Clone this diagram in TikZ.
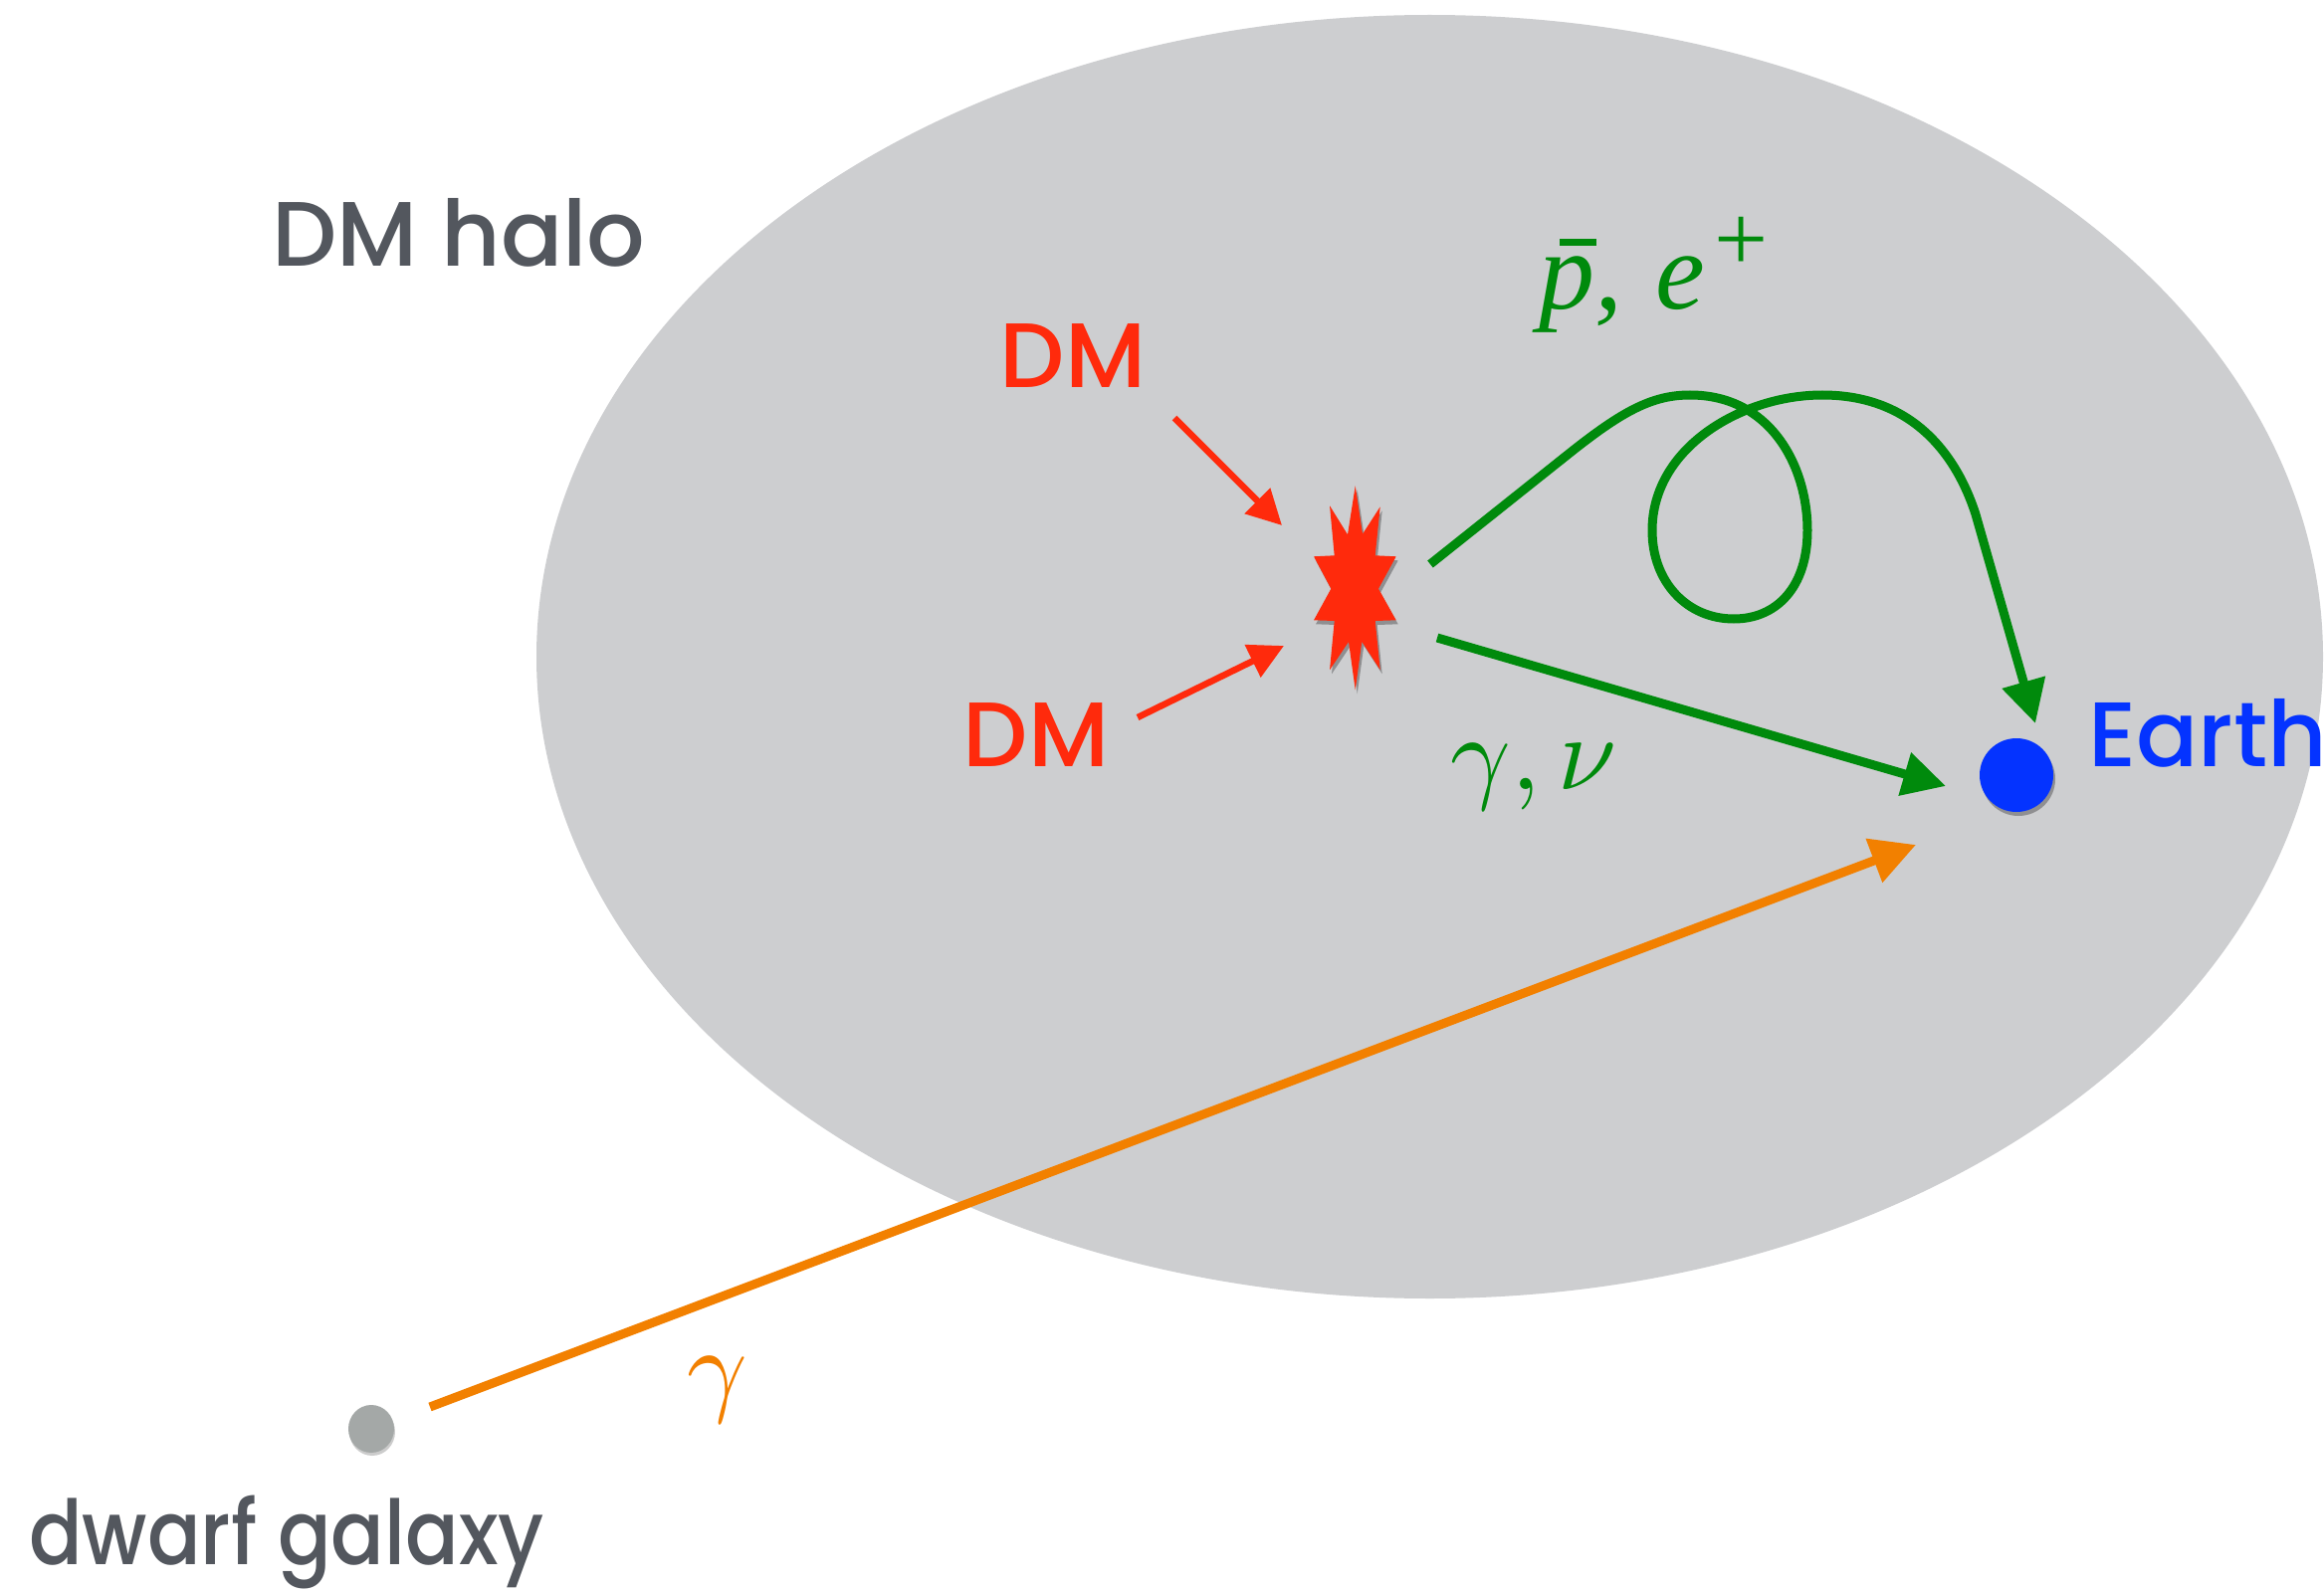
\documentclass[tikz,border=0pt]{standalone}
\usepackage{fontspec}
\setmainfont{Poppins}[UprightFont={* Medium}]
\newfontfamily\serfont{Liberation Serif}
\usetikzlibrary{arrows.meta,shadows,shapes.geometric}
\definecolor{halo}{HTML}{CDCED0}
\definecolor{txtgray}{HTML}{53575E}
\definecolor{dmred}{HTML}{FF2A0C}
\definecolor{grn}{HTML}{008A0C}
\definecolor{earthblue}{HTML}{0433FF}
\definecolor{orng}{HTML}{F28000}
\definecolor{dwarfgray}{HTML}{A4A8A7}
\begin{document}
\begin{tikzpicture}[x=1pt,y=-1pt,
  lbl/.style={anchor=base, inner sep=0pt, font=\fontsize{92}{92}\selectfont},
  mlbl/.style={anchor=base, inner sep=0pt},
  redarr/.style={draw=dmred, line width=6.5pt, -{Triangle[length=35pt,width=35pt]}},
  grnarr/.style={draw=grn, line width=9pt, -{Triangle[length=43pt,width=43pt]}},
  orarr/.style={draw=orng, line width=9pt, -{Triangle[length=45pt,width=45pt]}},
  softshadow/.style={drop shadow={shadow xshift=2pt, shadow yshift=-4pt, opacity=0.3, fill=black}}
]
\useasboundingbox (0,0) rectangle (2335,1602);
\fill[white] (0,0) rectangle (2335,1602);
% halo
\fill[halo] (1436.5,660) ellipse [x radius=897.5, y radius=645];

% labels
\node[lbl, text=txtgray] (halolbl) at (461,268) {DM halo};
\node[lbl, text=dmred] (dm1) at (1078,390) {DM};
\node[lbl, text=dmred] (dm2) at (1041,770) {DM};
\node[lbl, text=earthblue] (earthlbl) at (2218,770) {Earth};
\node[lbl, text=txtgray, font=\fontsize{90}{90}\selectfont] (dwarflbl) at (288,1572) {\scalebox{0.88}[1]{dwarf galaxy}};

% star (annihilation)
\fill[dmred, softshadow]
  (1361.7,488.3) -- (1369,536.7) -- (1386.7,509.3) -- (1381.7,558.3) -- (1402.7,559.3)
  -- (1385,591.7) -- (1402.7,623.3) -- (1381.7,624) -- (1386.7,673.3) -- (1368.3,645)
  -- (1361.7,693.3) -- (1355,645) -- (1336,673.3) -- (1340.7,624) -- (1320,623.3)
  -- (1337.3,591.7) -- (1320,559.3) -- (1340.7,558.3) -- (1336,508.3) -- (1354,537.3) -- cycle;
\coordinate (star) at (1362,592);

% earth and dwarf
\node[circle, fill=earthblue, minimum size=74pt, inner sep=0pt, softshadow] (earth) at (2026,779) {};
\node[ellipse, fill=dwarfgray, minimum width=46pt, minimum height=48pt, inner sep=0pt,
  drop shadow={shadow xshift=1pt, shadow yshift=-3pt, opacity=0.2, fill=black}] (dwarf) at (373,1436) {};

% coordinates for connector ends
\coordinate (r1s) at (1180,420);
\coordinate (r1e) at (1288,528);
\coordinate (r2s) at (1143,721);
\coordinate (r2e) at (1290,649);
\coordinate (gs) at (1444,641);
\coordinate (ge) at (1955,790);
\coordinate (cs) at (1437,567);
\coordinate (ce) at (2045,727);
\coordinate (os) at (432,1414);
\coordinate (oe) at (1925,849);

% red arrows
\draw[redarr] (r1s) -- (r1e);
\draw[redarr] (r2s) -- (r2e);

% green arrows
\draw[grnarr] (gs) -- (ge);
\draw[grnarr, line join=round] (cs) -- (1575,457)
  .. controls (1630,413) and (1660,397) .. (1698,397)
  .. controls (1780,397) and (1816,470) .. (1816,533)
  .. controls (1816,590) and (1785,622) .. (1742,622)
  .. controls (1695,622) and (1660,585) .. (1660,533)
  .. controls (1660,450) and (1750,397) .. (1831,397)
  .. controls (1920,397) and (1965,455) .. (1985,517)
  -- (ce);

% orange arrow
\draw[orarr] (os) -- (oe);

% math labels
\node[inner sep=0pt, anchor=base west, text=grn, font=\fontsize{112}{112}\selectfont\serfont\itshape] (pe) at (1546,311)
  {\makebox[0pt][l]{\hspace{0.19em}\rule[0.57em]{0.33em}{0.06em}}p,\hspace{0.3em}e\hspace{0.08em}\raisebox{0.34em}{\upshape\fontsize{96}{96}\selectfont +}};
\node[mlbl, text=grn] (gn) at (1541,793) {\scalebox{10.6}{$\gamma,\nu$}};
\node[mlbl, text=orng] (go) at (721,1409) {\scalebox{10.6}{$\gamma$}};
\end{tikzpicture}
\end{document}
